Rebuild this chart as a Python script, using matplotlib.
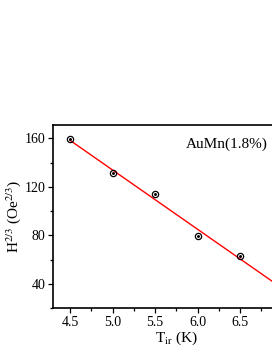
import numpy as np
import matplotlib
matplotlib.use("Agg")
from matplotlib import pyplot as plt
from matplotlib.ticker import MultipleLocator

plt.rcParams['font.family'] = ['Liberation Serif', 'DejaVu Serif']
plt.rcParams['mathtext.fontset'] = 'stix'

t_ir = [4.5, 5.0, 5.5, 6.0, 6.5]
h23 = [159.4, 131.6, 113.7, 79.3, 63.3]
xticks = [4.5, 5.0, 5.5, 6.0, 6.5]
label = 'AuMn(1.8%)'

fig = plt.figure(figsize=(2.72, 3.52), dpi=100)
x0, x1 = 4.3, 7.2
ax = fig.add_axes([53 / 272, 44 / 352, (x1 - x0) * 85 / 272, 183 / 352])

slope, icpt = np.polyfit(t_ir, h23, 1)
xl = np.array([4.5, 7.2])
ax.plot(xl, slope * xl + icpt, color='red', lw=1)
ax.plot(t_ir, h23, 'o', ms=4.5, mfc='none', mec='black', mew=0.9)
ax.plot(t_ir, h23, 'o', ms=1.1, color='black')

ax.set_xlim(x0, x1)
ax.set_ylim(20, 171)
ax.set_xticks(xticks)
ax.xaxis.set_minor_locator(MultipleLocator(0.25))
ax.yaxis.set_major_locator(MultipleLocator(40))
ax.yaxis.set_minor_locator(MultipleLocator(20))
ax.tick_params(which='major', length=3.5, width=0.9, labelsize=10, pad=2)
ax.tick_params(which='minor', length=2, width=0.9)
for s in ax.spines.values():
    s.set_linewidth(1.2)

ax.set_xlabel(r'T$_{\rm ir}$ (K)', fontsize=11, labelpad=1)
ax.set_ylabel(r'H$^{2/3}$ (Oe$^{2/3}$)', fontsize=11, labelpad=1)
# keep the whole label inside the picture (the reference crops its last char)
ax.text(5.86, 155, label, fontsize=11, va='center')

fig.savefig('out.png', dpi=100)
